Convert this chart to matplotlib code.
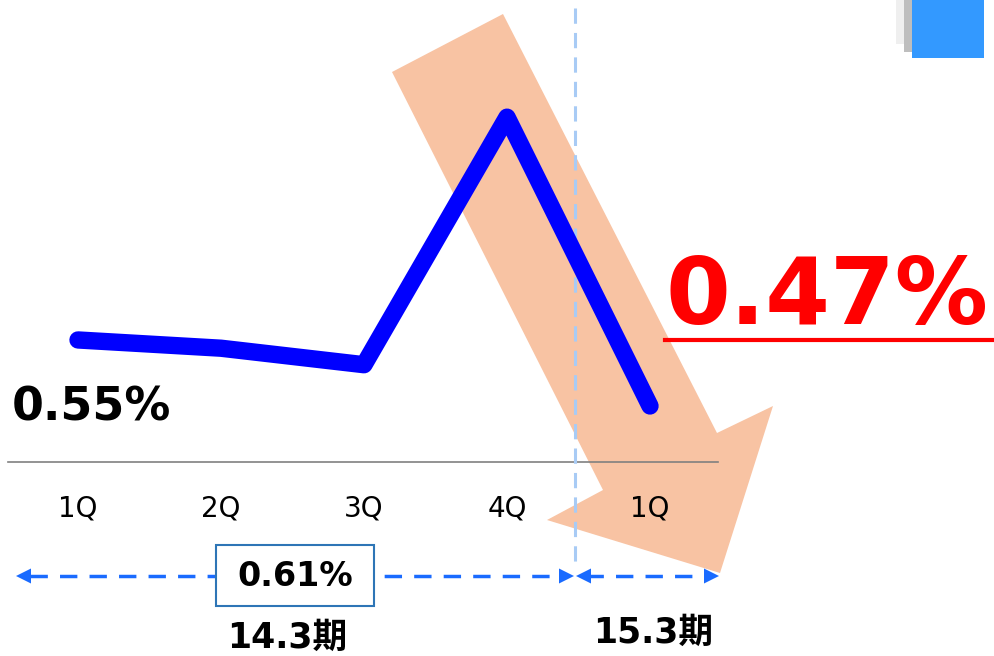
import matplotlib
matplotlib.use("Agg")
import matplotlib.pyplot as plt
from matplotlib.patches import Polygon, Rectangle

plt.rcParams['font.family'] = ['DejaVu Sans', 'Noto Sans CJK JP']

# =========================
# Datos
# =========================
quarters = ["1Q", "2Q", "3Q", "4Q", "1Q"]
rates = [0.55, 0.54, 0.52, 0.82, 0.47]
start_label = "0.55%"
last_label = "0.47%"
avg_prev = "0.61%"
periods = ["14.3期", "15.3期"]

# =========================
# Figura
# =========================
fig = plt.figure(figsize=(9.94, 6.56), dpi=100)

# capa de pixeles para decoracion
ov = fig.add_axes([0, 0, 1, 1])
ov.set_xlim(0, 994)
ov.set_ylim(656, 0)
ov.axis("off")

# capa de datos (linea)
ax = fig.add_axes([0, 0, 1, 1])
ax.set_xlim(-0.5455, 6.4056)
ax.set_ylim(0.167, 0.962)
ax.axis("off")
ax.patch.set_alpha(0)

# ----- flecha naranja -----
arrow = Polygon([(392, 72), (503, 14), (717, 433), (773, 406),
                 (720, 573), (547, 520), (603, 490)],
                closed=True, facecolor="#F8C3A3", edgecolor="none", zorder=1)
ov.add_patch(arrow)

# ----- cuadrado azul arriba derecha -----
ov.add_patch(Rectangle((896, 0), 20, 44, facecolor="#EFEFEF", edgecolor="none"))
ov.add_patch(Rectangle((904, 0), 12, 52, facecolor="#BEBEBE", edgecolor="none"))
ov.add_patch(Rectangle((912, 0), 72, 58, facecolor="#3399FF", edgecolor="none"))

# ----- linea base y separador -----
ov.plot([8, 718], [462, 462], color="#808080", lw=1.2, zorder=3)
ov.plot([575, 575], [8, 562], color="#A8CBF5", lw=2.2,
        linestyle=(0, (5, 3)), zorder=3)

# ----- linea principal -----
x = list(range(len(quarters)))
ax.plot(x, rates, color="#0000FF", lw=12.5, solid_capstyle="round",
        solid_joinstyle="round", zorder=5)

for i, q in enumerate(quarters):
    ax.text(i, 0.346, q, ha="center", va="center", fontsize=20, zorder=6)

# ----- etiquetas -----
ov.text(12, 408, start_label, fontsize=33, fontweight="bold",
        ha="left", va="center", zorder=6)
ov.text(666, 298, last_label, fontsize=67, fontweight="bold", color="#FF0000",
        ha="left", va="center", zorder=6)
ov.plot([665, 994], [340, 340], color="#FF0000", lw=3, zorder=6)

# ----- flechas punteadas -----
blue = "#1A6BFF"
ov.plot([30, 565], [576, 576], color=blue, lw=2.5, linestyle=(0, (5, 3.5)), zorder=4)
ov.plot([586, 706], [576, 576], color=blue, lw=2.5, linestyle=(0, (5, 3.5)), zorder=4)
for tip, base in [((16, 576), (32, 576)), ((574, 576), (558, 576)),
                  ((576, 576), (592, 576)), ((719, 576), (703, 576))]:
    ov.annotate("", xy=tip, xytext=base,
                arrowprops=dict(arrowstyle="-|>,head_length=0.9,head_width=0.45",
                                mutation_scale=12, color=blue, lw=0,
                                shrinkA=0, shrinkB=0), zorder=5)

# ----- caja promedio -----
ov.add_patch(Rectangle((216, 545), 158, 61, facecolor="white",
                       edgecolor="#2E75B6", lw=1.5, zorder=6))
ov.text(295, 577, avg_prev, fontsize=24, fontweight="bold",
        ha="center", va="center", zorder=7)

ov.text(287, 638, periods[0], fontsize=25, fontweight="bold",
        ha="center", va="center")
ov.text(653, 633, periods[1], fontsize=25, fontweight="bold",
        ha="center", va="center")

fig.savefig("out.png", dpi=100)
